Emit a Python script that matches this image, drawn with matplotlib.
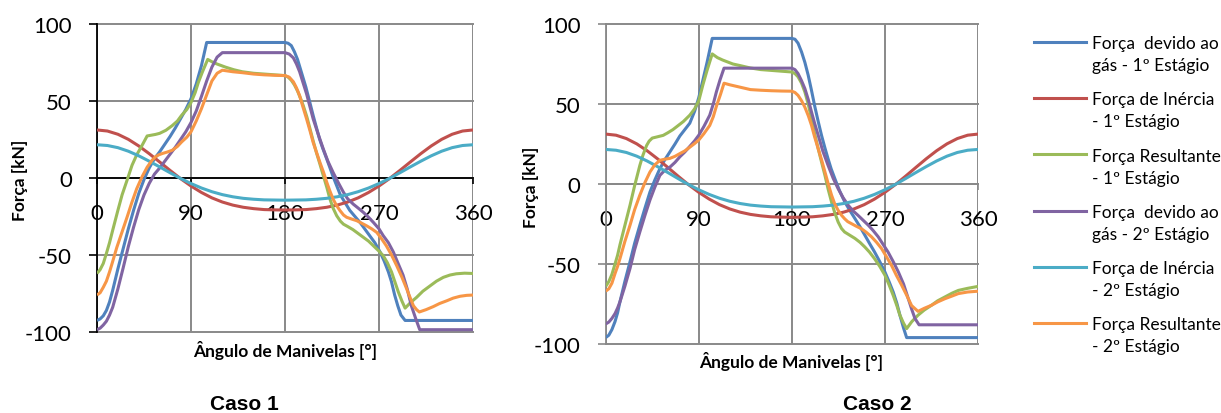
import matplotlib
matplotlib.use("Agg")
import matplotlib.pyplot as plt
from matplotlib.lines import Line2D

plt.rcParams['font.family'] = ['Lato', 'DejaVu Sans']
plt.rcParams['axes.unicode_minus'] = False

# crank angle ticks and force ticks
x_ticks = [0, 90, 180, 270, 360]
y_ticks = [-100, -50, 0, 50, 100]

# inertia forces (same in both cases)
inertia_deg = [0, 10, 20, 30, 40, 50, 60, 70, 80, 90, 100, 110, 120, 130, 140, 150, 160, 170, 180,
               190, 200, 210, 220, 230, 240, 250, 260, 270, 280, 290, 300, 310, 320, 330, 340, 350, 360]
inertia1 = [31.2, 30.5, 28.4, 25.1, 20.8, 15.8, 10.4, 4.9, -0.4, -5.2, -9.4, -12.9, -15.6, -17.6, -19.0,
            -19.9, -20.5, -20.7, -20.8, -20.7, -20.5, -19.9, -19.0, -17.6, -15.6, -12.9, -9.4, -5.2, -0.4,
            4.9, 10.4, 15.8, 20.8, 25.1, 28.4, 30.5, 31.2]
inertia2 = [21.6, 21.1, 19.7, 17.4, 14.4, 10.9, 7.2, 3.4, -0.3, -3.6, -6.5, -8.9, -10.8, -12.2, -13.2,
            -13.8, -14.2, -14.3, -14.4, -14.3, -14.2, -13.8, -13.2, -12.2, -10.8, -8.9, -6.5, -3.6, -0.3,
            3.4, 7.2, 10.9, 14.4, 17.4, 19.7, 21.1, 21.6]

# Caso 1
c1_gas1_deg = [0, 3, 6, 9, 12, 15, 20, 25, 30, 35, 40, 45, 50, 55, 60, 65, 70, 75, 80, 85, 90, 95, 100, 105,
               180, 183, 186, 189, 192, 196, 200, 204, 207, 210, 213, 216, 220, 226, 233, 242, 252, 261, 266,
               271, 275, 279, 282, 285, 288, 291, 295, 360]
c1_gas1 = [-92.5, -91.5, -89.5, -86, -80.5, -73, -59, -46, -33, -21, -10, -1, 6.5, 12.5, 17, 22, 27, 32.5,
           38.5, 44.5, 51.5, 61, 73, 88,
           88, 87.5, 86, 82, 77, 68, 59, 48.5, 40.5, 33, 25.5, 19.5, 12.3, 1, -11, -21, -29, -37.4, -42,
           -48, -54, -61, -67.5, -76, -83, -89, -92.5, -92.5]

c1_gas2_deg = [0, 3, 6, 9, 12, 15, 20, 25, 30, 35, 40, 45, 50, 55, 60, 65, 70, 75, 80, 85, 90, 95, 100, 105,
               110, 115, 120, 180, 184, 188, 191, 194, 197, 200.7, 204, 207, 212, 216.7, 221, 226, 231, 236,
               240, 245.4, 250, 255, 260, 264.6, 270, 274, 279, 283.7, 288, 293, 297, 301, 305, 309, 360]
c1_gas2 = [-98.5, -97.5, -95.5, -93, -89, -84, -72, -58.5, -44.5, -32, -20.5, -11, -3.5, 2.5, 6.5, 11, 15.5,
           20, 25, 30, 36, 43.5, 53, 63, 72, 78.5, 81.4, 81.4, 80.5, 78, 74, 69, 62.5, 54.5, 46, 38.3, 28,
           18.8, 11, 3.7, -3, -9.3, -13.5, -17, -19.5, -22.3, -25.5, -28.8, -33, -37.4, -42, -48, -55, -63,
           -72, -83, -91, -98.5, -98.5]

c1_res1_deg = [0, 3, 6, 9, 12, 15, 20, 24, 29, 33.5, 38, 43, 48, 52, 56, 60, 66, 72, 77, 81, 86, 90, 94, 97,
               101, 106, 110, 115, 123, 131, 139, 150, 160, 170, 180, 183, 186, 189, 192, 195, 197.5, 201,
               204, 207, 210, 213, 216.7, 220, 223, 226, 229.5, 233, 236, 240, 245, 250, 255, 260, 264.6,
               270, 274, 278, 282, 285, 288.5, 292, 295, 300, 306, 312, 319, 325, 331.6, 338, 344, 352, 360]
c1_res1 = [-62, -59.5, -55.5, -49, -42, -34, -21, -11, -1, 8.2, 15, 21, 27.3, 27.8, 28.3, 29, 31, 34, 37,
           40.7, 44.5, 49, 55.5, 62, 69, 77, 75.5, 74, 72, 70.3, 69, 68, 67.5, 67, 66.5, 65.5, 63.5, 60.5,
           56.5, 51.5, 47, 39.5, 31.8, 24, 16.7, 10, 1.5, -6, -13.6, -19.5, -24.5, -28, -30, -31.5, -33.5,
           -36, -38.5, -41, -44, -47.5, -50.4, -55, -61, -67, -74, -80, -84.5, -81, -77.5, -73.5, -70,
           -67, -64.5, -63, -62.2, -61.8, -62]

c1_res2_deg = [0, 3, 6, 9, 12, 14.4, 19, 24, 29, 33.5, 38, 43, 48, 52.7, 56, 59, 63, 67, 72, 77, 81, 86, 90,
               95, 100, 105, 110, 115, 120, 130, 139, 150, 160, 170, 180, 184, 188, 191, 194, 197, 200.7,
               204, 207, 210, 213.5, 217, 220, 223, 226, 229, 232.7, 236, 239, 244, 248.6, 253, 258, 263,
               267.8, 272, 277, 282, 287, 292, 296.5, 300, 303, 306, 308.6, 315, 322, 328, 335, 341, 347.6,
               354, 360]
c1_res2 = [-76, -74.5, -71, -67, -61, -55.6, -45, -35, -25, -15.6, -7, 0.6, 7, 11.5, 13.8, 15, 16, 16.8, 18,
           20.5, 23.4, 26.5, 30, 37, 45, 54, 63, 68, 70, 69, 68.4, 67.5, 67, 66.7, 66.5, 65.5, 62.5, 58.5,
           53.5, 46.5, 38.3, 30.5, 23, 17, 10, 3.5, -2.8, -8.5, -13.6, -17.5, -21.2, -24, -25.5, -26.7,
           -27.7, -29.2, -31, -33, -35.3, -39, -44, -50, -57, -64.5, -72, -78, -83, -85.5, -87, -85.5,
           -83.5, -81.5, -79.7, -78, -76.8, -76.2, -76]

# Caso 2
c2_gas1_deg = [0, 3, 6, 9, 11.5, 13.8, 18.5, 23.5, 28, 33, 38, 42.8, 47.5, 52.4, 57, 62, 67, 71.7, 76.5,
               81.3, 86, 90, 94, 98, 103, 180, 183, 186, 189.4, 192.6, 195.8, 199, 202, 205.5, 208.7, 212,
               215, 218, 221.6, 226, 231, 236, 241, 246, 250.6, 255, 260, 265, 270, 274, 278, 281.5, 284.5,
               288, 291, 360]
c2_gas1 = [-96, -94.5, -91, -86, -80.5, -73.6, -61, -48.6, -37, -25.8, -15, -5, 2.5, 9.6, 15, 20, 25, 30,
           34, 38, 45.5, 54, 65, 76, 91, 91, 90.5, 88, 82.5, 76, 68, 58.5, 49, 39, 30.4, 22.5, 15.8, 9.5,
           3.3, -4, -11, -16.5, -21.6, -26.8, -32, -37, -42.5, -48.5, -55, -61, -67.5, -74.5, -82, -90,
           -96, -96]

c2_gas2_deg = [0, 3, 6, 9, 11.5, 13.8, 18.5, 23.5, 28, 33, 38, 42.8, 47.5, 52.4, 57, 62, 67, 71.7, 76.5,
               81.3, 86, 90, 95, 100.6, 104, 107, 110.5, 114.4, 180, 183, 186, 189.4, 192.6, 196, 199, 202,
               205.5, 210, 215, 220, 224.8, 229.5, 234.5, 239, 244, 249, 254, 258.5, 263.5, 268, 273, 278,
               283, 288, 292.6, 296, 299, 303, 360]
c2_gas2 = [-87.5, -86.3, -84, -81, -77.5, -73.6, -64, -52.8, -41, -30, -19.5, -10, -2, 5.4, 8.5, 10.5, 13.5,
           17, 20, 23.5, 27, 30.5, 36, 43, 50, 57.5, 65, 72.4, 72.4, 71.5, 69, 64.5, 59.6, 52.5, 45, 38,
           30.4, 20.5, 11.7, 3.5, -3, -8.5, -13.3, -16.7, -19.6, -22.7, -25.8, -29, -33, -37.5, -42.5,
           -48.5, -55, -62.5, -71.7, -78.5, -84, -88, -88]

c2_res1_deg = [0, 3, 6, 9, 11.5, 13.8, 18.5, 23.5, 28, 33, 36, 39.5, 42, 45, 50, 55.6, 60, 65, 70, 75, 81.3,
               86, 90, 94, 98, 103, 108, 113, 117, 123, 130, 140, 150, 160, 170, 180, 183, 186, 189.4, 192.6,
               196, 199, 202, 205.5, 209, 212, 215, 218.4, 221.5, 224.8, 228, 231, 236, 241, 246, 250.6, 255,
               260, 265, 270, 274, 278, 281.5, 284.5, 288, 291, 296, 302, 308, 315, 321, 328, 335, 341, 350,
               360]
c2_res1 = [-64, -61, -56.5, -50, -44.5, -38, -26, -13.3, -1, 11.6, 18, 24, 26.8, 28.7, 29.5, 30.4, 32, 34,
           36.5, 39, 43, 47, 52, 62, 71, 81.3, 79, 77.5, 76.5, 75, 74, 72.5, 71.5, 71, 70.5, 70, 69, 67, 63,
           57.5, 49.5, 40.8, 31.5, 22, 13, 5.4, -3, -11.3, -18, -23.8, -27.8, -30, -32, -34, -36.5, -39.4,
           -42.5, -46.7, -51.5, -57, -63, -69.6, -76, -82, -87, -90.4, -86, -82, -78.8, -75.8, -73, -70.6,
           -68.2, -66.5, -65.2, -64]

c2_res2_deg = [0, 3, 6, 9, 11.5, 13.8, 18.5, 23.5, 28, 33, 38, 42.8, 47.5, 52.4, 57, 62, 67, 71.7, 76.5,
               81.3, 86, 90, 95, 100.6, 104, 107, 111, 114.4, 120, 130, 140, 150, 160, 170, 180, 183, 186,
               189.4, 192.6, 196, 199, 202, 205.5, 209, 212, 215, 218.4, 221.5, 224.8, 228, 231, 234, 237.7,
               242, 247.4, 252, 257, 262, 266.8, 271.5, 276.5, 281, 286, 291, 295.8, 302, 308, 315, 321, 328,
               335, 341, 350, 360]
c2_res2 = [-67, -65.5, -62, -56, -51.5, -46.6, -36, -25.8, -16, -7, 1, 7.5, 12, 14.8, 15.5, 16, 17.3, 19,
           20.7, 23, 25.3, 27.5, 31.5, 36.6, 42, 48.5, 56, 63, 62, 60.5, 59, 58.6, 58.3, 58.1, 58, 57.2,
           55.4, 52, 48, 42.5, 36.7, 29.5, 22, 14.5, 7.5, 0.5, -7, -12.5, -16.5, -19.5, -21.7, -23.5,
           -24.8, -26.3, -28, -30.2, -33, -36.5, -40.4, -45.5, -51, -57, -63, -69.5, -76, -79.6, -77.7,
           -75.8, -73.7, -71.7, -70, -68.5, -67.5, -67]

legend_labels = ["Força  devido ao\ngás - 1º Estágio",
                 "Força de Inércia\n- 1º Estágio",
                 "Força Resultante\n- 1º Estágio",
                 "Força  devido ao\ngás - 2º Estágio",
                 "Força de Inércia\n- 2º Estágio",
                 "Força Resultante\n- 2º Estágio"]
colors = ['#4F81BD', '#C0504D', '#9BBB59', '#8064A2', '#4BACC6', '#F79646']
grid_gray = '#898989'

W, H = 1221, 414


def draw_case(ax, curves, axis_color, xlabel_xy, ylabel_xy):
    for (deg, val), color in zip(curves, colors):
        ax.plot(deg, val, color=color, lw=2.2, solid_joinstyle='round', solid_capstyle='butt', zorder=3)
    ax.set_xlim(0, 360)
    ax.set_ylim(-100, 100)
    ax.set_xticks(x_ticks)
    ax.set_yticks(y_ticks)
    ax.grid(True, color=grid_gray, lw=1.4)
    ax.set_axisbelow(True)
    for gl in ax.get_xgridlines() + ax.get_ygridlines():
        gl.set_clip_on(False)
    ax.spines['top'].set_visible(False)
    ax.spines['right'].set_visible(False)
    ax.spines['bottom'].set_position(('data', 0))
    for s in ['bottom', 'left']:
        ax.spines[s].set_color(axis_color)
        ax.spines[s].set_linewidth(1.3)
        ax.spines[s].set_zorder(2)
    ax.tick_params(axis='y', direction='out', length=6, width=1.2, color=axis_color,
                   labelsize=16, pad=12)
    ax.tick_params(axis='x', direction='out', length=4.5, width=1.2, color=axis_color,
                   labelsize=16, pad=13.5)
    ax.set_xlabel("Ângulo de Manivelas [°]", fontsize=12.5, fontweight='bold')
    ax.set_ylabel("Força [kN]", fontsize=12.5, fontweight='bold')
    ax.xaxis.set_label_coords(*xlabel_xy)
    ax.yaxis.set_label_coords(*ylabel_xy)
    ax.xaxis.label.set_va('center')
    ax.yaxis.label.set_va('center')


fig = plt.figure(figsize=(W / 100, H / 100), dpi=100)

ax1 = fig.add_axes([97 / W, 1 - 333 / H, 376 / W, 308 / H])
ax2 = fig.add_axes([605.7 / W, 1 - 345 / H, 372.3 / W, 320 / H])

case1 = [(c1_gas1_deg, c1_gas1), (inertia_deg, inertia1), (c1_res1_deg, c1_res1),
         (c1_gas2_deg, c1_gas2), (inertia_deg, inertia2), (c1_res2_deg, c1_res2)]
case2 = [(c2_gas1_deg, c2_gas1), (inertia_deg, inertia1), (c2_res1_deg, c2_res1),
         (c2_gas2_deg, c2_gas2), (inertia_deg, inertia2), (c2_res2_deg, c2_res2)]

draw_case(ax1, case1, 'black', (0.5, -0.058), (-0.205, 0.494))
draw_case(ax2, case2, grid_gray, (0.499, -0.053), (-0.2, 0.494))

fig.text(244 / W, 1 - 405 / H, "Caso 1", family='Liberation Sans', fontweight='bold',
         fontsize=15, ha='center', va='center')
fig.text(877 / W, 1 - 405 / H, "Caso 2", family='Liberation Sans', fontweight='bold',
         fontsize=15, ha='center', va='center')

# legend on the right, handle level with the first line of each label
for i, (label, color) in enumerate(zip(legend_labels, colors)):
    yh = 43 + 56.2 * i
    fig.add_artist(Line2D([1034 / W, 1086 / W], [1 - yh / H, 1 - yh / H], color=color, lw=2.2,
                          transform=fig.transFigure))
    for j, line in enumerate(label.split("\n")):
        fig.text(1092 / W, 1 - (yh + 6.3 + 22 * j) / H, line, fontsize=12.5,
                 ha='left', va='baseline')

fig.savefig("out.png", dpi=100)
